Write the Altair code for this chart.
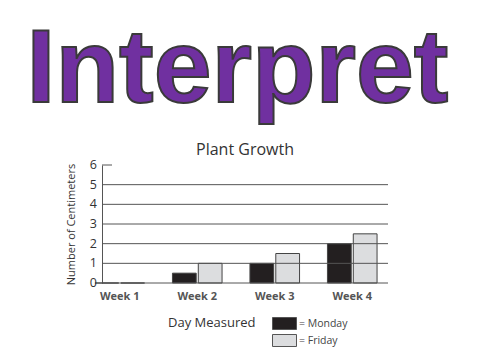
import altair as alt
import pandas as pd

weeks = ["Week 1", "Week 2", "Week 3", "Week 4"]
days = ["Monday", "Friday"]
monday_cm = [0, 0.5, 1, 2]
friday_cm = [0, 1, 1.5, 2.5]
y_ticks = [0, 1, 2, 3, 4, 5, 6]
grid_lines = [0, 1, 2, 3, 4, 5]
day_colors = ["#231F20", "#DCDDDF"]

rows = []
for w, m, f in zip(weeks, monday_cm, friday_cm):
    rows.append({"week": w, "day": "Monday", "cm": m})
    rows.append({"week": w, "day": "Friday", "cm": f})
df = pd.DataFrame(rows)

FONT = "Open Sans"

yscale = alt.Scale(domain=[0, 6])

bars = alt.Chart(df).mark_bar(stroke="#444", strokeWidth=1).encode(
    x=alt.X(
        "week:N", sort=weeks,
        scale=alt.Scale(range=[-21, 289], paddingInner=0, paddingOuter=0),
        axis=alt.Axis(title=None, domain=False, ticks=False, labelAngle=0,
                      labelPadding=7, labelFontSize=11, labelFont=FONT,
                      labelFontWeight="bold", labelColor="#555"),
    ),
    xOffset=alt.XOffset("day:N", sort=days,
                        scale=alt.Scale(paddingInner=0.08, paddingOuter=0.54)),
    y=alt.Y("cm:Q", scale=yscale,
            axis=alt.Axis(title="Number of Centimeters", labels=False,
                          titleFont=FONT, titleFontSize=11, titleFontWeight="normal",
                          titleColor="#333", titlePadding=26,
                          ticks=False, grid=False,
                          domainColor="#555", domainWidth=1)),
    color=alt.Color(
        "day:N", sort=days,
        scale=alt.Scale(domain=days, range=day_colors),
        legend=alt.Legend(
            title="Day Measured", orient="none", legendX=66, legendY=152,
            titleOrient="left", titleAnchor="start", titleBaseline="top",
            titleFontSize=13, titleFontWeight="normal",
            titleColor="#333", titleFont=FONT, titlePadding=22,
            symbolType="M-2,-1H2V1H-2Z", symbolSize=144,
            symbolStrokeColor="#555", symbolStrokeWidth=1, symbolOpacity=1,
            labelExpr="'= ' + datum.label", labelFontSize=10.5,
            labelColor="#444", labelFont=FONT, labelOffset=8, rowPadding=0,
            padding=0,
        ),
    ),
)

grid = alt.Chart(pd.DataFrame({"v": grid_lines})).mark_rule(color="#555", strokeWidth=1).encode(
    y=alt.Y("v:Q", scale=yscale),
    x=alt.value(0), x2=alt.value(286),
)

stub = alt.Chart(pd.DataFrame({"v": [6]})).mark_rule(color="#555", strokeWidth=1).encode(
    y=alt.Y("v:Q", scale=yscale), x=alt.value(0), x2=alt.value(10)
)

ylabels = alt.Chart(pd.DataFrame({"v": y_ticks})).mark_text(
    font=FONT, fontSize=12.5, color="#333", align="right", baseline="middle",
).encode(y=alt.Y("v:Q", scale=yscale), text="v:Q", x=alt.value(-5))

heading = alt.Chart(pd.DataFrame({"t": ["Interpret"]})).mark_text(
    font="Liberation Sans", fontWeight="bold", fontSize=104,
    fill="#7030A0", stroke="#3a3a3a", strokeWidth=2,
    align="center", baseline="alphabetic",
).encode(text="t:N", x=alt.value(135.5), y=alt.value(-63))

chart_title = alt.Chart(pd.DataFrame({"t": ["Plant Growth"]})).mark_text(
    font=FONT, fontSize=16, color="#333", align="center", baseline="alphabetic",
).encode(text="t:N", x=alt.value(143), y=alt.value(-10))

chart = alt.layer(bars, grid, stub, ylabels, heading, chart_title).properties(
    width=286, height=118,
    padding={"left": 94, "top": 157, "right": 84, "bottom": 69},
    autosize=alt.AutoSizeParams(type="none"),
).configure_view(stroke=None)

chart.save("out.html", embed_options={"renderer": "svg", "actions": False})
